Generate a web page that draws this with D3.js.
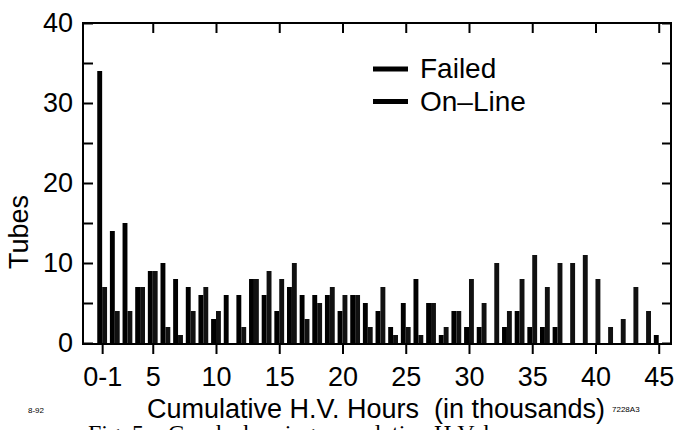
<!DOCTYPE html>
<html>
<head>
<meta charset="utf-8">
<script src="https://cdn.jsdelivr.net/npm/d3@7"></script>
<style>
  body { margin: 0; background: #fff; }
  text { font-family: "Liberation Sans", Arial, sans-serif; fill: #000; }
</style>
</head>
<body>
<script>
// tubes per 1000 H.V. hour bin
var bins = d3.range(1, 46);
var failed = [34, 14, 15, 7, 9, 10, 8, 7, 6, 3,
              6, 6, 8, 6, 4, 7, 6, 6, 6, 4,
              6, 5, 4, 2, 5, 8, 5, 1, 4, 2,
              2, 0, 2, 4, 2, 2, 2, 0, 0, 0,
              0, 0, 0, 0, 1];
var online = [7, 4, 4, 7, 9, 2, 1, 4, 7, 4,
              0, 2, 8, 9, 8, 10, 3, 5, 7, 6,
              6, 2, 7, 1, 2, 1, 5, 2, 4, 8,
              5, 10, 4, 8, 11, 7, 10, 10, 11, 8,
              2, 3, 7, 4, 0];
var xTicks = [1, 5, 10, 15, 20, 25, 30, 35, 40, 45];
var xTickLabels = ["0-1", "5", "10", "15", "20", "25", "30", "35", "40", "45"];
var yLabelTicks = [0, 10, 20, 30, 40];
var yAllTicks = [0, 5, 10, 15, 20, 25, 30, 35, 40];
var seriesNames = ["Failed", "On\u2013Line"];

var width = 676,
    height = 430;

// plot box (note: "top" is taken by window.top, so use pTop etc.)
var pLeft = 83, pRight = 671, pTop = 23, pBottom = 343;

var svg = d3.select("body").append("svg")
    .attr("width", width)
    .attr("height", height);

var x = d3.scaleLinear().domain([-0.514, 45.97]).range([pLeft, pRight]);
var y = d3.scaleLinear().domain([0, 40]).range([pBottom, pTop]);

var barW = 4.9;

// bars: failed on the left of the bin position, on-line on the right
svg.append("g")
    .selectAll("rect")
    .data(bins)
    .enter().append("rect")
    .attr("x", function(d) { return x(d) - barW; })
    .attr("y", function(d, i) { return y(failed[i]); })
    .attr("width", barW)
    .attr("height", function(d, i) { return pBottom - y(failed[i]); })
    .attr("fill", "#000");

svg.append("g")
    .selectAll("rect")
    .data(bins)
    .enter().append("rect")
    .attr("x", function(d) { return x(d); })
    .attr("y", function(d, i) { return y(online[i]); })
    .attr("width", barW)
    .attr("height", function(d, i) { return pBottom - y(online[i]); })
    .attr("fill", "#111");

// axes
var fontSize = "27px";

var gl = svg.append("g")
    .attr("transform", "translate(" + pLeft + ",0)")
    .call(d3.axisLeft(y).tickValues(yAllTicks).tickSize(-10).tickPadding(10)
          .tickFormat(function(d) { return yLabelTicks.indexOf(d) >= 0 ? d : ""; }));

var gr = svg.append("g")
    .attr("transform", "translate(" + pRight + ",0)")
    .call(d3.axisRight(y).tickValues(yAllTicks).tickSize(-9).tickFormat(""));

var gb = svg.append("g")
    .attr("transform", "translate(0," + pBottom + ")")
    .call(d3.axisBottom(x).tickValues(xTicks).tickSize(11).tickPadding(13)
          .tickFormat(function(d, i) { return xTickLabels[i]; }));

var gt = svg.append("g")
    .attr("transform", "translate(0," + pTop + ")")
    .call(d3.axisTop(x).tickValues(xTicks.slice(1)).tickSize(-10).tickFormat(""));

[gl, gr, gb, gt].forEach(function(g) {
    g.select(".domain").remove();
    g.selectAll("line").attr("stroke", "#000").attr("stroke-width", 2);
    g.selectAll("text")
        .style("font-family", '"Liberation Sans", Arial, sans-serif')
        .style("font-size", fontSize)
        .attr("fill", "#000");
});

// frame
svg.append("rect")
    .attr("x", pLeft)
    .attr("y", pTop)
    .attr("width", pRight - pLeft)
    .attr("height", pBottom - pTop + 1)
    .attr("fill", "none")
    .attr("stroke", "#000")
    .attr("stroke-width", 2);

// axis titles
svg.append("text")
    .attr("transform", "translate(28,232) rotate(-90)")
    .attr("text-anchor", "middle")
    .style("font-size", "27px")
    .text("Tubes");

svg.append("text")
    .attr("x", 376)
    .attr("y", 418)
    .attr("text-anchor", "middle")
    .style("font-size", "27px")
    .attr("xml:space", "preserve")
    .text("Cumulative H.V. Hours  (in thousands)");

// legend
var legend = svg.append("g")
    .selectAll("g")
    .data(seriesNames)
    .enter().append("g")
    .attr("transform", function(d, i) { return "translate(373," + (69 + i * 32.5) + ")"; });

legend.append("line")
    .attr("x1", 0).attr("x2", 35)
    .attr("stroke", "#000")
    .attr("stroke-width", 5);

legend.append("text")
    .attr("x", 47)
    .attr("y", 9)
    .style("font-size", "28px")
    .text(function(d) { return d; });

// figure stamps and the clipped caption below
svg.append("text")
    .attr("x", 28).attr("y", 413)
    .style("font-size", "8px")
    .text("8-92");

svg.append("text")
    .attr("x", 612).attr("y", 412)
    .style("font-size", "8px")
    .text("7228A3");

svg.append("text")
    .attr("x", 88).attr("y", 441)
    .style("font-family", '"Liberation Serif", serif')
    .style("font-size", "24px")
    .attr("xml:space", "preserve")
    .text("Fig. 5.   Graph showing cumulative H.V. hours.");
</script>
</body>
</html>
